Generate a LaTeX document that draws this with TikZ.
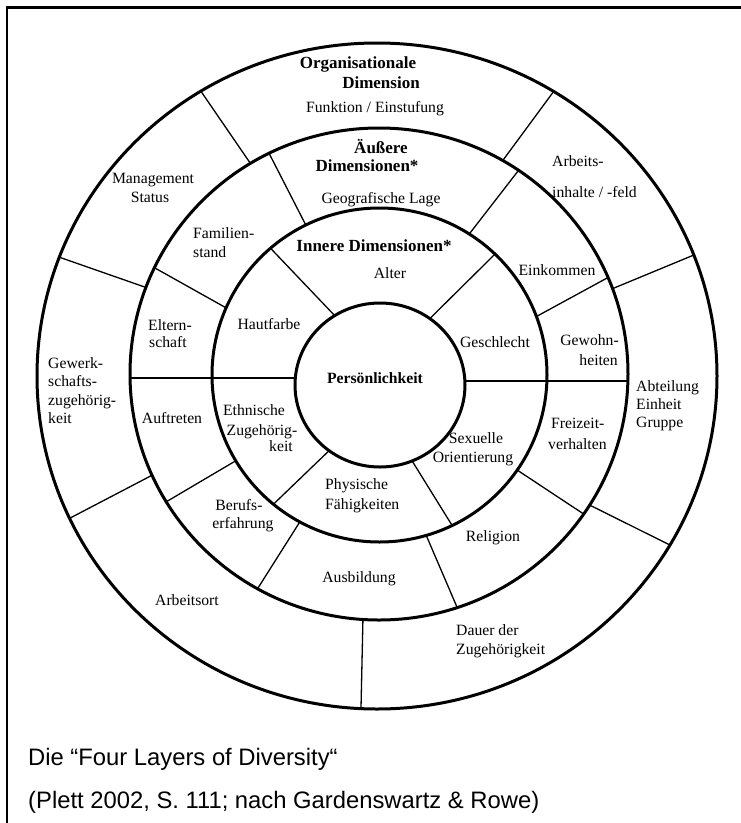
\documentclass[tikz,border=0pt]{standalone}
\usepackage{fontspec}
\newfontfamily\dgserif{Liberation Serif}
\newfontfamily\dgsans{Liberation Sans}
\newcommand\dgreg{\dgserif\fontsize{15.7}{18}\selectfont}
\newcommand\dghead{\dgserif\bfseries\fontsize{17}{20}\selectfont}
\newcommand\dgbold{\dgserif\bfseries\fontsize{15.7}{18}\selectfont}
\newcommand\dgcap{\dgsans\fontsize{23.8}{28}\selectfont}
\tikzset{
  ring/.style={line width=3pt},
  divider/.style={line width=1.3pt},
  hdivider/.style={line width=1.6pt},
  lbl/.style={font=\dgreg, inner sep=0pt, anchor=base},
  lblw/.style={font=\dgreg, inner sep=0pt, anchor=base west},
  lble/.style={font=\dgreg, inner sep=0pt, anchor=base east},
  head/.style={font=\dghead, inner sep=0pt, anchor=base},
  core/.style={font=\dgbold, inner sep=0pt, anchor=base},
  captext/.style={font=\dgcap, inner sep=0pt, anchor=base west}
}
\begin{document}
\begin{tikzpicture}[x=1pt,y=-1pt]
\useasboundingbox (0,0) rectangle (741,823);
% frame
\draw[line width=2.6pt] (741,7.5) -- (7,7.5);
\draw[line width=1.8pt] (7,6.2) -- (7,823);
% ellipse centres
\coordinate (c1) at (377,376);
\coordinate (c2) at (379,374);
\coordinate (c3) at (379.5,375);
\coordinate (c4) at (380,385);
% rings
\draw[ring] (c1) ellipse [x radius=340pt, y radius=333pt];
\draw[ring] (c2) ellipse [x radius=249pt, y radius=246pt];
\draw[ring] (c3) ellipse [x radius=167.5pt, y radius=167pt];
\draw[ring] (c4) ellipse [x radius=85pt, y radius=82pt];
% divider end points
\coordinate (A1i) at ([shift={(c2)}]-121.1:249 and 246);
\coordinate (A1o) at ([shift={(c1)}]-121.2:340 and 333);
\coordinate (A2i) at ([shift={(c3)}]-116.1:167.5 and 167);
\coordinate (A2o) at ([shift={(c2)}]-116.2:249 and 246);
\coordinate (Bi) at ([shift={(c2)}]-159.4:249 and 246);
\coordinate (Bo) at ([shift={(c1)}]-159.1:340 and 333);
\coordinate (Ci) at ([shift={(c3)}]-156.3:167.5 and 167);
\coordinate (Co) at ([shift={(c2)}]-154.4:249 and 246);
\coordinate (Di) at ([shift={(c4)}]-122.2:85 and 82);
\coordinate (Do) at ([shift={(c3)}]-130.6:167.5 and 167);
\coordinate (Ei) at ([shift={(c2)}]-60.2:249 and 246);
\coordinate (Eo) at ([shift={(c1)}]-58.7:340 and 333);
\coordinate (Fi) at ([shift={(c3)}]-57.6:167.5 and 167);
\coordinate (Fo) at ([shift={(c2)}]-55.9:249 and 246);
\coordinate (Gi) at ([shift={(c4)}]-54.1:85 and 82);
\coordinate (Go) at ([shift={(c3)}]-46.4:167.5 and 167);
\coordinate (Hi) at ([shift={(c3)}]-20.5:167.5 and 167);
\coordinate (Ho) at ([shift={(c2)}]-23.1:249 and 246);
\coordinate (Ii) at ([shift={(c2)}]-20.3:249 and 246);
\coordinate (Io) at ([shift={(c1)}]-21.3:340 and 333);
\coordinate (Ji) at ([shift={(c4)}]126.8:85 and 82);
\coordinate (Jo) at ([shift={(c3)}]129.3:167.5 and 167);
\coordinate (Ki) at ([shift={(c4)}]67.8:85 and 82);
\coordinate (Ko) at ([shift={(c3)}]64.3:167.5 and 167);
\coordinate (Li) at ([shift={(c3)}]149.1:167.5 and 167);
\coordinate (Lo) at ([shift={(c2)}]148.7:249 and 246);
\coordinate (Mi) at ([shift={(c2)}]155.7:249 and 246);
\coordinate (Mo) at ([shift={(c1)}]154.7:340 and 333);
\coordinate (Ni) at ([shift={(c3)}]34.7:167.5 and 167);
\coordinate (No) at ([shift={(c2)}]34.7:249 and 246);
\coordinate (Oi) at ([shift={(c2)}]32.2:249 and 246);
\coordinate (Oo) at ([shift={(c1)}]30.5:340 and 333);
\coordinate (Pi) at ([shift={(c3)}]73.8:167.5 and 167);
\coordinate (Po) at ([shift={(c2)}]71.7:249 and 246);
\coordinate (Qi) at ([shift={(c3)}]118.4:167.5 and 167);
\coordinate (Qo) at ([shift={(c2)}]119.2:249 and 246);
\coordinate (Ri) at ([shift={(c2)}]93.7:249 and 246);
\coordinate (Ro) at ([shift={(c1)}]92.7:340 and 333);
\coordinate (HLi) at (295.5,378);
\coordinate (HLo) at (130,378);
\coordinate (HRi) at (465,381);
\coordinate (HRo) at (628,381);
% dividers
\foreach \d in {A1,A2,B,C,D,E,F,G,H,I,J,K,L,M,N,O,P,Q,R}
  \draw[divider] (\d i) -- (\d o);
\draw[hdivider] (HLi) -- (HLo);
\draw[hdivider] (HRi) -- (HRo);
% headings
\node[head] (orgA) at (358,68) {Organisationale};
\node[head] (orgB) at (381,88) {Dimension};
\node[head] (aussA) at (381,153) {Äußere};
\node[head] (aussB) at (367,171) {Dimensionen*};
\node[head] (inn) at (374,251) {Innere Dimensionen*};
\node[core] (pers) at (375,383) {Persönlichkeit};
% organisational ring
\node[lbl] (funk) at (375,112.5) {Funktion / Einstufung};
\node[lblw] (arbA) at (552,166.5) {Arbeits-};
\node[lblw] (arbB) at (552,197.5) {inhalte / -feld};
\node[lblw] (abtA) at (636,391.5) {Abteilung};
\node[lblw] (abtB) at (636,409.5) {Einheit};
\node[lblw] (abtC) at (636,427.5) {Gruppe};
\node[lblw] (dauA) at (456,635.5) {Dauer der};
\node[lblw] (dauB) at (456,654.5) {Zugehörigkeit};
\node[lbl] (ort) at (187,605.5) {Arbeitsort};
\node[lblw] (gwkA) at (48,368.5) {Gewerk-};
\node[lblw] (gwkB) at (48,386.5) {schafts-};
\node[lblw] (gwkC) at (48,405.5) {zugehörig-};
\node[lblw] (gwkD) at (48,423.5) {keit};
\node[lbl] (mgmtA) at (153,183.5) {Management};
\node[lbl] (mgmtB) at (150,202.5) {Status};
% outer dimensions ring
\node[lbl] (geo) at (381,203.5) {Geografische Lage};
\node[lbl] (eink) at (557,275.5) {Einkommen};
\node[lble] (gewA) at (619,345.5) {Gewohn-};
\node[lble] (gewB) at (618,365.5) {heiten};
\node[lblw] (frzA) at (551,428.5) {Freizeit-};
\node[lblw] (frzB) at (548,449.5) {verhalten};
\node[lbl] (relig) at (493,541.5) {Religion};
\node[lbl] (ausb) at (359,582.5) {Ausbildung};
\node[lbl] (berA) at (239,510.5) {Berufs-};
\node[lbl] (berB) at (243,528.5) {erfahrung};
\node[lbl] (auftr) at (172,423.5) {Auftreten};
\node[lblw] (eltA) at (148,330.5) {Eltern-};
\node[lblw] (eltB) at (149,347.5) {schaft};
\node[lblw] (famA) at (193,238.5) {Familien-};
\node[lblw] (famB) at (193,257.5) {stand};
% inner dimensions ring
\node[lbl] (alter) at (390,278.5) {Alter};
\node[lbl] (geschl) at (495,347.5) {Geschlecht};
\node[lbl] (sexA) at (476,443.5) {Sexuelle};
\node[lbl] (sexB) at (473,462.5) {Orientierung};
\node[lblw] (physA) at (325,489.5) {Physische};
\node[lblw] (physB) at (325,509.5) {Fähigkeiten};
\node[lbl] (ethA) at (254,415.5) {Ethnische};
\node[lbl] (ethB) at (262,435.5) {Zugehörig-};
\node[lbl] (ethC) at (281,451.5) {keit};
\node[lbl] (hautf) at (269,329.5) {Hautfarbe};
% caption
\node[captext] (capA) at (28,765.5) {Die “Four Layers of Diversity“};
\node[captext] (capB) at (28,808.5) {(Plett 2002, S. 111; nach Gardenswartz \& Rowe)};
\end{tikzpicture}
\end{document}
